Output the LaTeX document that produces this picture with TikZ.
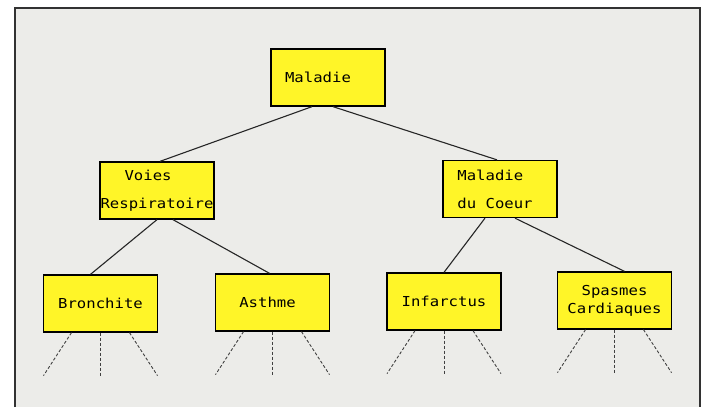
\documentclass[tikz,border=0pt]{standalone}
\usepackage{fontspec}
\newfontfamily\plotfont[FakeStretch=1.14]{DejaVu Sans Mono}
\definecolor{paper}{RGB}{236,236,233}
\definecolor{boxyellow}{RGB}{255,245,40}
\definecolor{framegray}{RGB}{50,50,50}
\tikzset{
  cat/.style={draw=black, line width=1.3pt, fill=boxyellow, minimum width=114pt,
    minimum height=57pt, inner sep=0pt,
    font=\plotfont\fontsize{13.7}{18}\selectfont},
  link/.style={draw=black!85, line width=1.1pt},
  more/.style={draw=black!75, line width=0.9pt, dash pattern=on 3pt off 2pt}
}
\begin{document}
\begin{tikzpicture}[x=1pt,y=-1pt]
\useasboundingbox (0,0) rectangle (709,407);
\fill[white] (0,0) rectangle (709,407);
\fill[paper] (15,8) rectangle (700,407);
\draw[framegray, line width=1.4pt] (15,407) -- (15,8) -- (700,8) -- (700,407);

\node[cat] (mal) at (328,77.5) {\mbox{Maladie\kern20pt}};
\node[cat, align=left] (voies) at (157,190.5) {\hspace*{24pt}Voies\\[10pt]Respiratoire};
\node[cat, align=left] (coeur) at (500,189) {Maladie\\[10pt]\mbox{du Coeur\kern10pt}};
\node[cat] (bron) at (100.5,303.5) {Bronchite};
\node[cat] (asth) at (272.5,302.5) {\mbox{Asthme\kern10pt}};
\node[cat] (infa) at (444,301.5) {Infarctus};
\node[cat, align=center] (spas) at (614.5,300.5) {Spasmes\\Cardiaques};

\draw[link] ([xshift=-16pt]mal.south) -- ([xshift=3pt]voies.north);
\draw[link] ([xshift=5pt]mal.south) -- ([xshift=-3pt]coeur.north);
\draw[link] (voies.south) -- ([xshift=-10pt]bron.north);
\draw[link] ([xshift=16pt]voies.south) -- ([xshift=-3pt]asth.north);
\draw[link] ([xshift=-15pt]coeur.south) -- (infa.north);
\draw[link] ([xshift=15pt]coeur.south) -- ([xshift=10pt]spas.north);

\foreach \n in {bron,asth,infa,spas}{
  \coordinate (\n-l) at ([shift={(-57,43)}]\n.south);
  \coordinate (\n-m) at ([shift={(0,43)}]\n.south);
  \coordinate (\n-r) at ([shift={(57,43)}]\n.south);
  \draw[more] ([xshift=-29pt]\n.south) -- (\n-l);
  \draw[more] (\n.south) -- (\n-m);
  \draw[more] ([xshift=29pt]\n.south) -- (\n-r);
}
\end{tikzpicture}
\end{document}
